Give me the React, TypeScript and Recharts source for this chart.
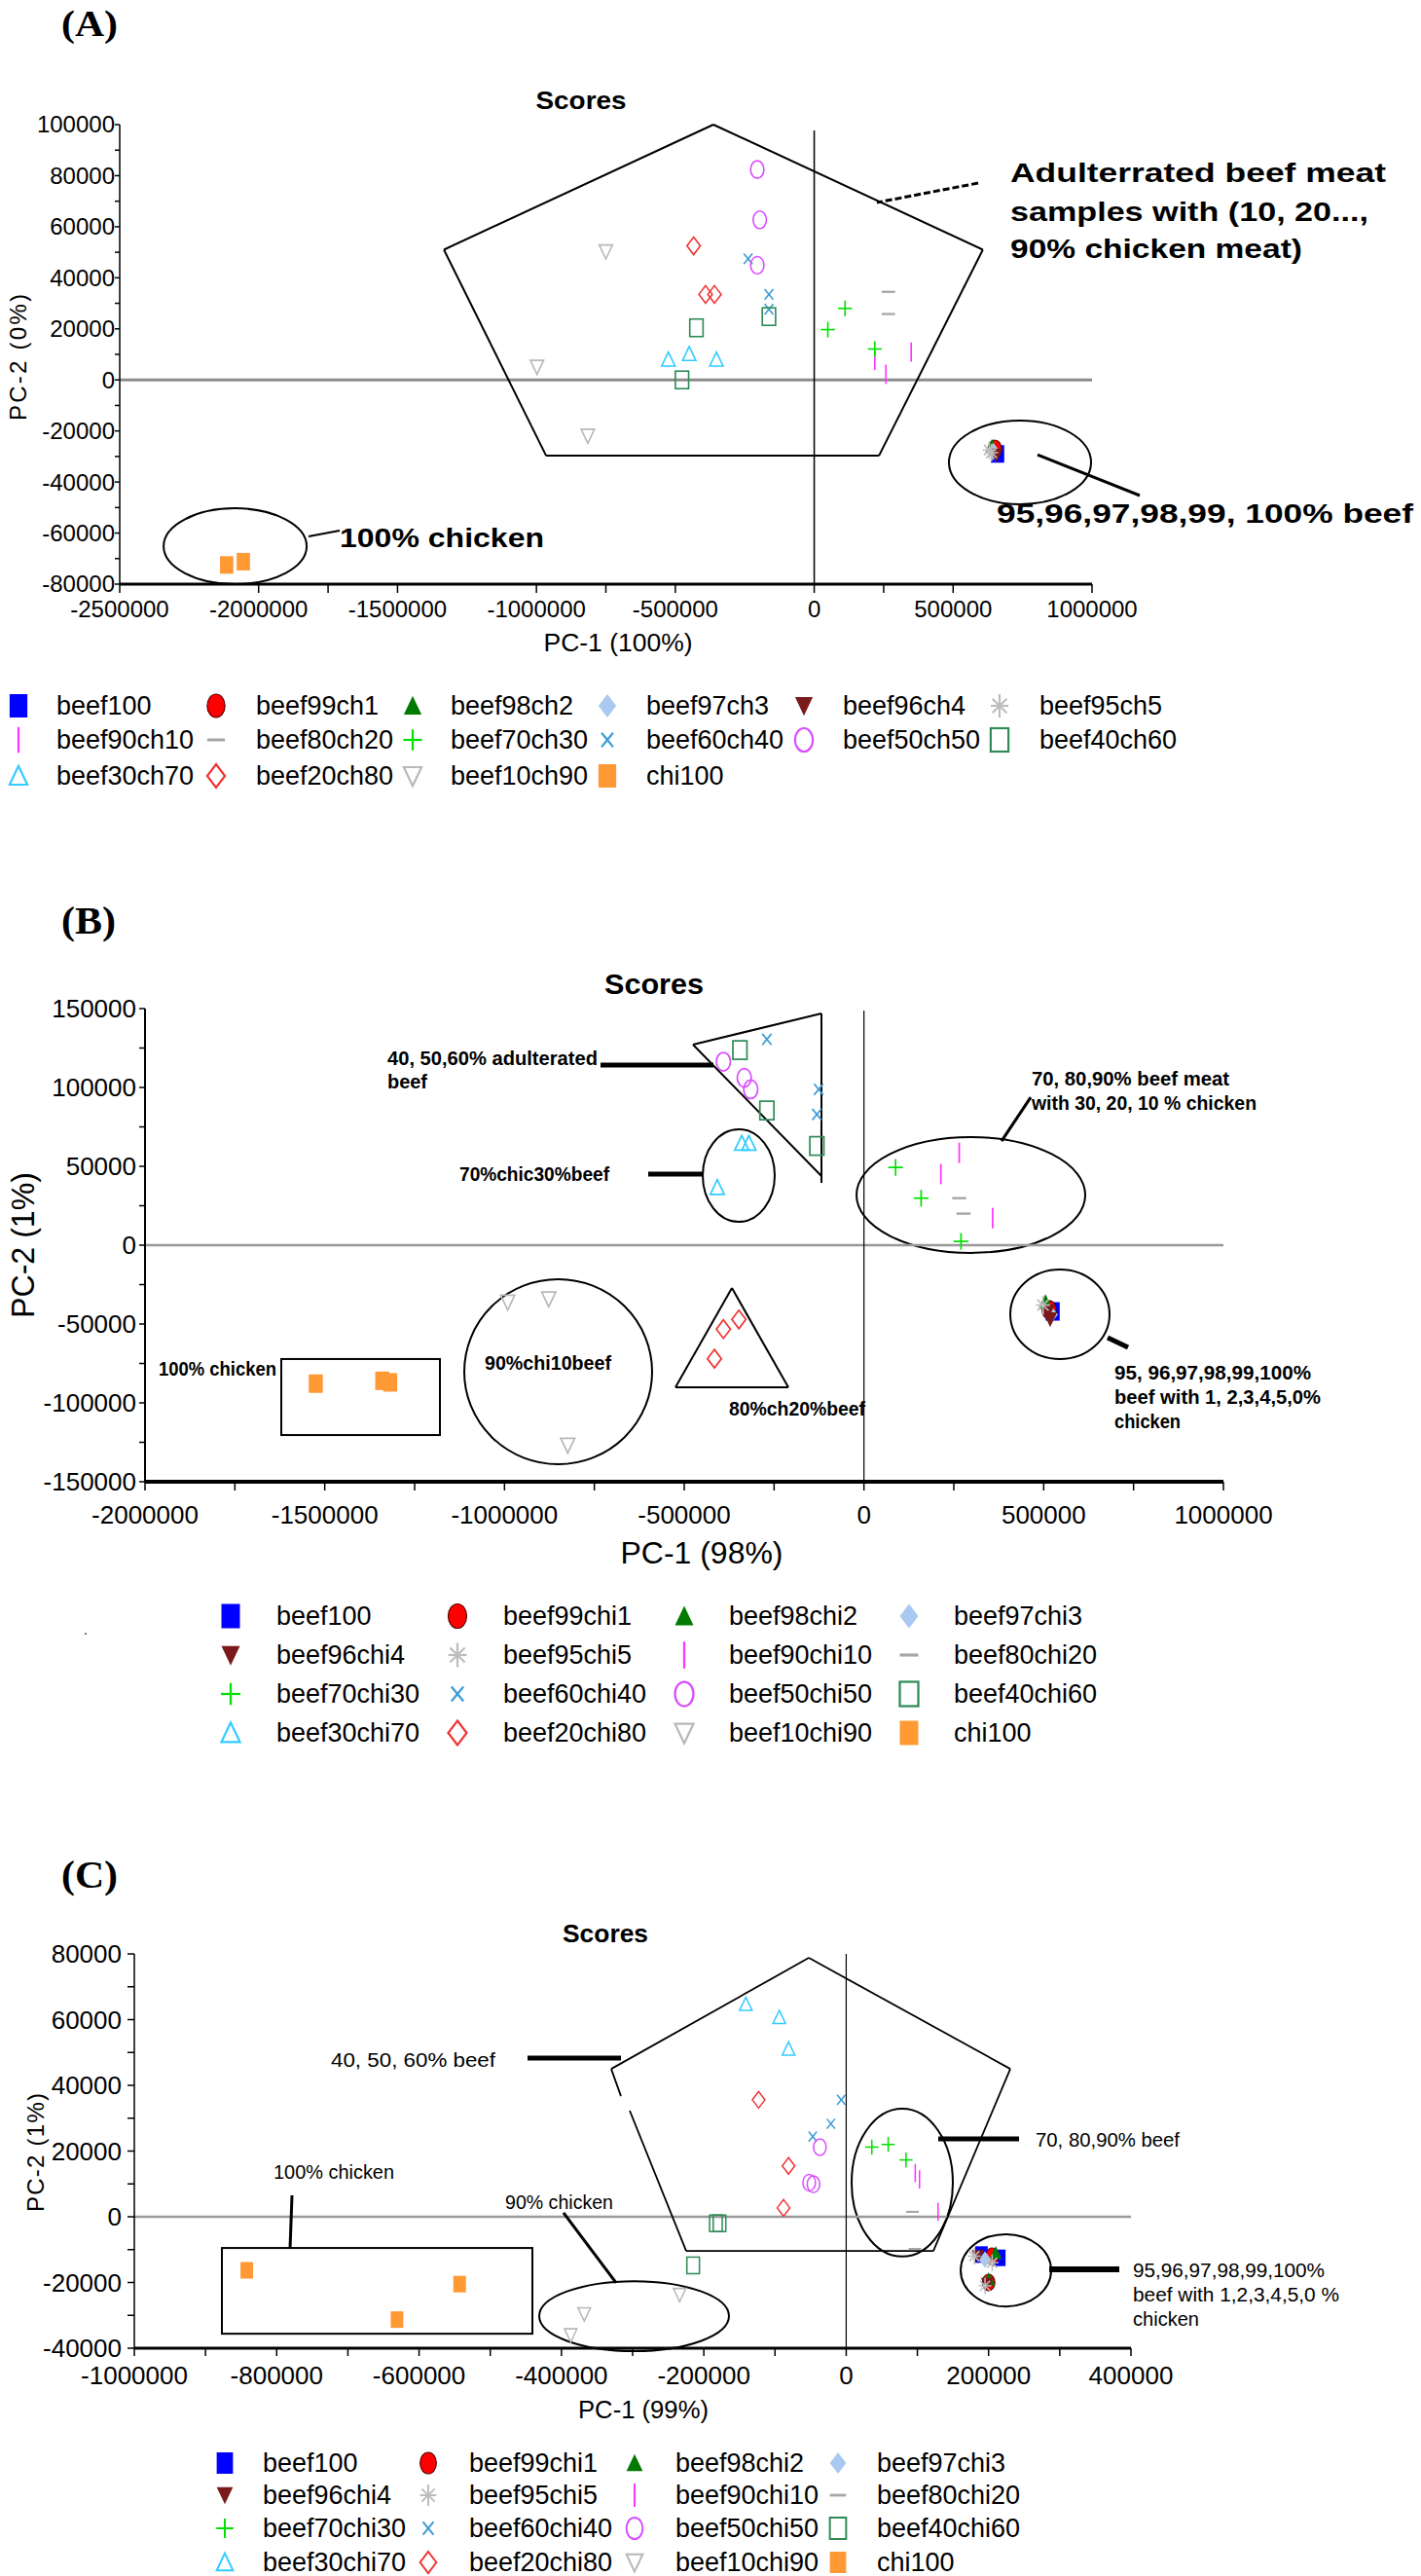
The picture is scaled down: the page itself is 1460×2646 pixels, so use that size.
import React from 'react';
import { ScatterChart, Scatter, XAxis, YAxis, ReferenceLine, ReferenceArea } from 'recharts';

type Pt = [number, number];
type Box = [number, number, number, number]; // x1, x2, y1, y2
type Seg = [number, number, number, number, number]; // x1, y1, x2, y2, width

const FONT = '"Liberation Sans", Arial, Helvetica, sans-serif';
const SERIF = '"Liberation Serif", "Times New Roman", serif';

// series, in legend order
const SERIES_KEYS = ['beef100', 'beef99', 'beef98', 'beef97', 'beef96', 'beef95', 'beef90', 'beef80',
  'beef70', 'beef60', 'beef50', 'beef40', 'beef30', 'beef20', 'beef10', 'chi100'];
const LEGEND_A = ['beef100', 'beef99ch1', 'beef98ch2', 'beef97ch3', 'beef96ch4', 'beef95ch5', 'beef90ch10', 'beef80ch20',
  'beef70ch30', 'beef60ch40', 'beef50ch50', 'beef40ch60', 'beef30ch70', 'beef20ch80', 'beef10ch90', 'chi100'];
const LEGEND_BC = ['beef100', 'beef99chi1', 'beef98chi2', 'beef97chi3', 'beef96chi4', 'beef95chi5', 'beef90chi10', 'beef80chi20',
  'beef70chi30', 'beef60chi40', 'beef50chi50', 'beef40chi60', 'beef30chi70', 'beef20chi80', 'beef10chi90', 'chi100'];
const MARKERS = ['square', 'circle', 'triangle', 'diamond', 'triangleDown', 'star', 'vbar', 'hdash',
  'plus', 'cross', 'circleOpen', 'squareOpen', 'triangleOpen', 'diamondOpen', 'triangleDownOpen', 'square'];
const COLORS = ['#0000ff', '#ff0000', '#007a00', '#a9c9f0', '#7b1a1a', '#bdbdbd', '#ff33ff', '#a6a6a6',
  '#00e000', '#3d9bd6', '#d94dff', '#2e8b57', '#33ccff', '#ee3535', '#b8b8b8', '#ff9933'];

// ---- panel A scores (PC-1 100%, PC-2 0%)
const A_POINTS: Record<string, Pt[]> = {
  beef100: [[660000, -29000]],
  beef99: [[650000, -27000]],
  beef98: [[640000, -26000]],
  beef97: [[645000, -28000]],
  beef96: [[655000, -29500]],
  beef95: [[630000, -27500], [638000, -28500]],
  beef90: [[218000, 7700], [349000, 10900], [258000, 2200]],
  beef80: [[267000, 34500], [267000, 25800]],
  beef70: [[111000, 28000], [49000, 19700], [218000, 12100]],
  beef60: [[-238000, 47400], [-163000, 33500], [-163000, 27700]],
  beef50: [[-205000, 82400], [-196000, 62700], [-205000, 44900]],
  beef40: [[-424000, 20400], [-163000, 24800], [-476000, 0]],
  beef30: [[-525000, 8000], [-450000, 10200], [-352000, 8000]],
  beef20: [[-434000, 52500], [-391000, 33500], [-359000, 33500]],
  beef10: [[-750000, 50300], [-998000, 5100], [-815000, -21900]],
  chi100: [[-2115000, -72500], [-2055000, -71200]],
};

// ---- panel B scores (PC-1 98%, PC-2 1%)
const B_POINTS: Record<string, Pt[]> = {
  beef100: [[525000, -42000]],
  beef99: [[515000, -41000]],
  beef98: [[505000, -36000]],
  beef97: [[520000, -44000]],
  beef96: [[512000, -42000], [518000, -47000]],
  beef95: [[498000, -38000]],
  beef90: [[265000, 58500], [214000, 45100], [358000, 17100]],
  beef80: [[265000, 29800], [277000, 20000]],
  beef70: [[88000, 49300], [159000, 29800], [270000, 2400]],
  beef60: [[-270000, 130500], [-126000, 98800], [-131000, 82900]],
  beef50: [[-391000, 116300], [-333000, 106100], [-315000, 98800]],
  beef40: [[-345000, 123700], [-270000, 85400], [-131000, 62900]],
  beef30: [[-340000, 64600], [-320000, 64600], [-408000, 36600]],
  beef20: [[-391000, -53200], [-348000, -47100], [-416000, -72000]],
  beef10: [[-991000, -36100], [-877000, -34100], [-824000, -126800]],
  chi100: [[-1525000, -87800], [-1340000, -86000], [-1318000, -87000]],
};

// ---- panel C scores (PC-1 99%, PC-2 1%)
const C_POINTS: Record<string, Pt[]> = {
  beef100: [[215000, -12500], [190000, -11500]],
  beef99: [[205000, -12000], [200000, -20000]],
  beef98: [[210000, -11000], [200000, -19000]],
  beef97: [[195000, -13000]],
  beef96: [[185000, -12000], [198000, -20500]],
  beef95: [[205000, -14000], [195000, -21000], [180000, -12000]],
  beef90: [[97000, 13300], [103000, 11400], [129000, 1500]],
  beef80: [[93000, 1500], [96500, -9800]],
  beef70: [[36000, 21200], [59000, 22000], [84000, 17300]],
  beef60: [[-7000, 35600], [-21500, 28300], [-47000, 24400]],
  beef50: [[-37000, 21200], [-52000, 10400], [-46000, 9900]],
  beef40: [[-183000, -2000], [-178000, -2000], [-215000, -14800]],
  beef30: [[-141000, 64700], [-94000, 60700], [-81000, 51100]],
  beef20: [[-123000, 35600], [-81000, 15500], [-88000, 2700]],
  beef10: [[-234000, -23700], [-368000, -29600], [-387000, -36000]],
  chi100: [[-842000, -16300], [-543000, -20500], [-631000, -31300]],
};

// ---- ticks
const A_X_TICKS = [-2500000, -2000000, -1750000, -1500000, -1000000, -750000, -500000, 0, 250000, 500000, 1000000];
const A_X_LABELS = [-2500000, -2000000, -1500000, -1000000, -500000, 0, 500000, 1000000];
const A_Y_TICKS = [-80000, -70000, -60000, -50000, -40000, -30000, -20000, -10000, 0, 10000, 20000, 30000,
  40000, 50000, 60000, 70000, 80000, 90000, 100000];
const A_Y_LABELS = [-80000, -60000, -40000, -20000, 0, 20000, 40000, 60000, 80000, 100000];

const B_X_TICKS = [-2000000, -1750000, -1500000, -1250000, -1000000, -750000, -500000, -250000, 0, 250000, 500000, 750000, 1000000];
const B_X_LABELS = [-2000000, -1500000, -1000000, -500000, 0, 500000, 1000000];
const B_Y_TICKS = [-150000, -125000, -100000, -75000, -50000, -25000, 0, 25000, 50000, 75000, 100000, 125000, 150000];
const B_Y_LABELS = [-150000, -100000, -50000, 0, 50000, 100000, 150000];

const C_X_TICKS = [-1000000, -900000, -800000, -700000, -600000, -500000, -400000, -300000, -200000, -100000,
  0, 100000, 200000, 300000, 400000];
const C_X_LABELS = [-1000000, -800000, -600000, -400000, -200000, 0, 200000, 400000];
const C_Y_TICKS = [-40000, -30000, -20000, -10000, 0, 10000, 20000, 30000, 40000, 50000, 60000, 70000, 80000];
const C_Y_LABELS = [-40000, -20000, 0, 20000, 40000, 60000, 80000];

// ---- annotation shapes (data units)
const A_PENTAGON: Pt[] = [[-363000, 100000], [607000, 51000], [233000, -29700], [-965000, -29700], [-1333000, 51000]];
const A_ELLIPSES: Box[] = [[485000, 996500, -15900, -48700], [-2342000, -1827000, -50300, -80000]];
const A_LEADERS: Seg[] = [[803800, -29300, 1171700, -45300, 3], [-1820300, -61300, -1708200, -59000, 2]];
const A_DASHED_LEADER: Seg = [590000, 77100, 225700, 69500, 3];

const B_TRIANGLE: Pt[] = [[-118200, 39500], [-118200, 146900], [-475600, 127200], [-118200, 43800]];
const B_TRIANGLE2: Pt[] = [[-367300, -27200], [-210300, -90100], [-524400, -90100]];
const B_ELLIPSES: Box[] = [[-448500, -248200, 73500, 14800], [-20700, 615600, 68500, -4900],
  [407100, 683200, -15400, -72200], [-1111900, -589300, -21600, -138900]];
const B_RECT: Box = [-1620900, -1179600, -72200, -120400];
const B_LEADERS: Seg[] = [[-732800, 114200, -418800, 114200, 5], [-600200, 45100, -448500, 45100, 5],
  [463900, 93800, 382700, 66000, 3], [677800, -58600, 734700, -64800, 5]];

const C_PENTAGON: Pt[] = [[-304100, 32300], [-224800, -10400], [122500, -10400], [230500, 45000],
  [-52500, 78800], [-330100, 45000], [-316400, 36700]];
const C_ELLIPSES: Box[] = [[7600, 149800, 32900, -12100], [160800, 287900, -5300, -27300], [-431250, -164650, -19600, -40900]];
const C_RECT: Box = [-876950, -440800, -9500, -35600];
const C_LEADERS: Seg[] = [[-447650, 48300, -316400, 48300, 5], [129300, 23700, 242800, 23700, 5],
  [285200, -16000, 383600, -16000, 6], [-778500, 6500, -781200, -9500, 3], [-397050, 1200, -323200, -20100, 3]];

function Marker({ kind, cx, cy, s, color }: { kind: string; cx: number; cy: number; s: number; color: string }) {
  if (cx == null || cy == null) return null;
  const hw = s * 0.38;
  const hh = s * 0.5;
  const sw = Math.max(1.4, s * 0.09);
  const st = { stroke: color, strokeWidth: sw, fill: 'none' };
  switch (kind) {
    case 'square':
      return <rect x={cx - hw} y={cy - hh} width={2 * hw} height={2 * hh} fill={color} />;
    case 'circle':
      return <ellipse cx={cx} cy={cy} rx={hw} ry={hh} fill={color} stroke="#5c0000" strokeWidth={1.2} />;
    case 'triangle':
      return <polygon points={`${cx},${cy - hh * 0.85} ${cx + hw},${cy + hh * 0.75} ${cx - hw},${cy + hh * 0.75}`} fill={color} />;
    case 'diamond':
      return <polygon points={`${cx},${cy - hh} ${cx + hw},${cy} ${cx},${cy + hh} ${cx - hw},${cy}`} fill={color} />;
    case 'triangleDown':
      return <polygon points={`${cx - hw},${cy - hh * 0.75} ${cx + hw},${cy - hh * 0.75} ${cx},${cy + hh * 0.85}`} fill={color} />;
    case 'star':
      return (
        <g {...st}>
          <line x1={cx} y1={cy - hh} x2={cx} y2={cy + hh} />
          <line x1={cx - hw} y1={cy} x2={cx + hw} y2={cy} />
          <line x1={cx - hw * 0.8} y1={cy - hh * 0.6} x2={cx + hw * 0.8} y2={cy + hh * 0.6} />
          <line x1={cx - hw * 0.8} y1={cy + hh * 0.6} x2={cx + hw * 0.8} y2={cy - hh * 0.6} />
        </g>
      );
    case 'vbar':
      return <line x1={cx} y1={cy - hh * 1.1} x2={cx} y2={cy + hh * 1.1} {...st} />;
    case 'hdash':
      return <line x1={cx - hw} y1={cy} x2={cx + hw} y2={cy} stroke={color} strokeWidth={sw * 1.4} />;
    case 'plus':
      return (
        <g {...st}>
          <line x1={cx} y1={cy - hh * 0.9} x2={cx} y2={cy + hh * 0.9} />
          <line x1={cx - hw * 1.05} y1={cy} x2={cx + hw * 1.05} y2={cy} />
        </g>
      );
    case 'cross':
      return (
        <g {...st}>
          <line x1={cx - hw * 0.65} y1={cy - hh * 0.6} x2={cx + hw * 0.65} y2={cy + hh * 0.6} />
          <line x1={cx - hw * 0.65} y1={cy + hh * 0.6} x2={cx + hw * 0.65} y2={cy - hh * 0.6} />
        </g>
      );
    case 'circleOpen':
      return <ellipse cx={cx} cy={cy} rx={hw} ry={hh} {...st} />;
    case 'squareOpen':
      return <rect x={cx - hw} y={cy - hh} width={2 * hw} height={2 * hh} {...st} />;
    case 'triangleOpen':
      return <polygon points={`${cx},${cy - hh * 0.85} ${cx + hw},${cy + hh * 0.75} ${cx - hw},${cy + hh * 0.75}`} {...st} />;
    case 'diamondOpen':
      return <polygon points={`${cx},${cy - hh} ${cx + hw},${cy} ${cx},${cy + hh} ${cx - hw},${cy}`} {...st} />;
    case 'triangleDownOpen':
      return <polygon points={`${cx - hw},${cy - hh * 0.75} ${cx + hw},${cy - hh * 0.75} ${cx},${cy + hh * 0.85}`} {...st} />;
    default:
      return null;
  }
}

const toData = (pts: Pt[]) => pts.map(([x, y]) => ({ x, y }));

function xTick(labels: number[], size: number) {
  return (props: any) => {
    const { x, y, payload } = props;
    if (!labels.includes(payload.value)) return <g />;
    return (
      <text x={x} y={y} dy={size * 0.78} textAnchor="middle" fontSize={size} fontFamily={FONT} fill="#000">
        {String(payload.value)}
      </text>
    );
  };
}

function yTick(labels: number[], size: number) {
  return (props: any) => {
    const { x, y, payload } = props;
    if (!labels.includes(payload.value)) return <g />;
    return (
      <text x={x} y={y} dy={size * 0.35} textAnchor="end" fontSize={size} fontFamily={FONT} fill="#000">
        {String(payload.value)}
      </text>
    );
  };
}

const seg = (key: string, a: Pt, b: Pt, w = 2, dash?: string) => (
  <ReferenceLine key={key} segment={[{ x: a[0], y: a[1] }, { x: b[0], y: b[1] }]}
    stroke="#000" strokeWidth={w} strokeDasharray={dash} ifOverflow="visible" />
);

const polyline = (key: string, pts: Pt[], closed: boolean, w = 2) => {
  const out: React.ReactNode[] = [];
  const list = closed ? [...pts, pts[0]] : pts;
  for (let i = 0; i < list.length - 1; i++) out.push(seg(`${key}${i}`, list[i], list[i + 1], w));
  return out;
};

const ellipse = (key: string, b: Box, w = 2) => (
  <ReferenceArea key={key} x1={b[0]} x2={b[1]} y1={b[2]} y2={b[3]} ifOverflow="visible"
    shape={(p: any) => (
      <ellipse cx={p.x + p.width / 2} cy={p.y + p.height / 2} rx={Math.abs(p.width) / 2} ry={Math.abs(p.height) / 2}
        fill="none" stroke="#000" strokeWidth={w} />
    )} />
);

const box = (key: string, b: Box, w = 2) => (
  <ReferenceArea key={key} x1={b[0]} x2={b[1]} y1={b[2]} y2={b[3]} ifOverflow="visible"
    shape={(p: any) => <rect x={p.x} y={p.y} width={p.width} height={p.height} fill="none" stroke="#000" strokeWidth={w} />} />
);

const leaders = (key: string, list: Seg[]) =>
  list.map((l, i) => seg(`${key}${i}`, [l[0], l[1]], [l[2], l[3]], l[4]));

type PanelProps = {
  top: number;
  height: number;
  margin: { top: number; right: number; bottom: number; left: number };
  yWidth: number;
  xDomain: [number, number];
  yDomain: [number, number];
  xTicks: number[];
  xLabels: number[];
  yTicks: number[];
  yLabels: number[];
  xFont: number;
  yFont: number;
  xTickSize: number;
  xTickMargin: number;
  yTickSize: number;
  yTickMargin: number;
  xAxisW: number;
  yAxisW: number;
  points: Record<string, Pt[]>;
  ms: number;
  extras: React.ReactNode[];
};

function Panel(p: PanelProps) {
  return (
    <div style={{ position: 'absolute', left: 0, top: p.top }}>
      <ScatterChart width={1460} height={p.height} margin={p.margin}>
        <XAxis type="number" dataKey="x" domain={p.xDomain} allowDataOverflow ticks={p.xTicks} interval={0} height={60}
          tick={xTick(p.xLabels, p.xFont)} tickSize={p.xTickSize} tickMargin={p.xTickMargin}
          axisLine={{ stroke: '#000', strokeWidth: p.xAxisW }} tickLine={{ stroke: '#000', strokeWidth: 1.5 }} />
        <YAxis type="number" dataKey="y" domain={p.yDomain} allowDataOverflow ticks={p.yTicks} interval={0} width={p.yWidth}
          tick={yTick(p.yLabels, p.yFont)} tickSize={p.yTickSize} tickMargin={p.yTickMargin}
          axisLine={{ stroke: '#000', strokeWidth: p.yAxisW }} tickLine={{ stroke: '#000', strokeWidth: 1.5 }} />
        {p.extras}
        {SERIES_KEYS.map((k, i) => (
          <Scatter key={k} name={k} data={toData(p.points[k])} isAnimationActive={false}
            shape={(s: any) => <Marker kind={MARKERS[i]} cx={s.cx} cy={s.cy} s={p.ms} color={COLORS[i]} />} />
        ))}
      </ScatterChart>
    </div>
  );
}

function Txt({ x, y, size, text, len, bold, anchor = 'start', family = FONT, rotate, adjust = 'spacingAndGlyphs' }: {
  x: number; y: number; size: number; text: string; len?: number; bold?: boolean; anchor?: string;
  family?: string; rotate?: boolean; adjust?: string;
}) {
  return (
    <text x={x} y={y} dy={size * 0.35} fontSize={size} fontFamily={family} fontWeight={bold ? 'bold' : 'normal'}
      textAnchor={anchor as any} fill="#000" textLength={len} lengthAdjust={len ? (adjust as any) : undefined}
      transform={rotate ? `rotate(-90 ${x} ${y})` : undefined}>
      {text}
    </text>
  );
}

function Legend({ names, cols, symX, textX, rows, ms, font }: {
  names: string[]; cols: number; symX: number[]; textX: number[]; rows: number[]; ms: number; font: number;
}) {
  return (
    <g>
      {names.map((n, i) => {
        const r = Math.floor(i / cols);
        const c = i % cols;
        return (
          <g key={n}>
            <Marker kind={MARKERS[i]} cx={symX[c]} cy={rows[r]} s={ms} color={COLORS[i]} />
            <text x={textX[c]} y={rows[r]} dy={font * 0.35} fontSize={font} fontFamily={FONT} fill="#000">{n}</text>
          </g>
        );
      })}
    </g>
  );
}

export default function App() {
  const aExtras = [
    <ReferenceLine key="ay0" y={0} stroke="#8c8c8c" strokeWidth={3} />,
    seg('ax0', [0, -80000], [0, 97700], 1.5),
    ...polyline('apent', A_PENTAGON, true, 2),
    ...A_ELLIPSES.map((b, i) => ellipse(`ael${i}`, b, 2)),
    ...leaders('ald', A_LEADERS),
    seg('adash', [A_DASHED_LEADER[0], A_DASHED_LEADER[1]], [A_DASHED_LEADER[2], A_DASHED_LEADER[3]], A_DASHED_LEADER[4], '7 3'),
  ];
  const bExtras = [
    <ReferenceLine key="by0" y={0} stroke="#999" strokeWidth={2.5} />,
    seg('bx0', [0, -150000], [0, 148800], 1.2),
    ...polyline('btri', B_TRIANGLE, false, 2),
    ...polyline('btri2', B_TRIANGLE2, true, 2),
    ...B_ELLIPSES.map((b, i) => ellipse(`bel${i}`, b, 2)),
    box('brect', B_RECT, 2),
    ...leaders('bld', B_LEADERS),
  ];
  const cExtras = [
    <ReferenceLine key="cy0" y={0} stroke="#999" strokeWidth={2.5} />,
    seg('cx0', [0, -40000], [0, 80000], 1.2),
    ...polyline('cpent', C_PENTAGON, false, 1.8),
    ...C_ELLIPSES.map((b, i) => ellipse(`cel${i}`, b, 2)),
    box('crect', C_RECT, 2),
    ...leaders('cld', C_LEADERS),
  ];

  return (
    <div style={{ position: 'absolute', left: 0, top: 0, width: 1460, height: 2646, background: '#fff', fontFamily: FONT }}>
      <Panel top={0} height={700} margin={{ top: 128, right: 338, bottom: 40, left: 13 }} yWidth={110}
        xDomain={[-2500000, 1000000]} yDomain={[-80000, 100000]}
        xTicks={A_X_TICKS} xLabels={A_X_LABELS} yTicks={A_Y_TICKS} yLabels={A_Y_LABELS}
        xFont={24} yFont={24} xTickSize={9} xTickMargin={6} yTickSize={5} yTickMargin={0}
        xAxisW={3} yAxisW={1.5} points={A_POINTS} ms={18} extras={aExtras} />
      <Panel top={880} height={740} margin={{ top: 156, right: 203, bottom: 38, left: 29 }} yWidth={120}
        xDomain={[-2000000, 1000000]} yDomain={[-150000, 150000]}
        xTicks={B_X_TICKS} xLabels={B_X_LABELS} yTicks={B_Y_TICKS} yLabels={B_Y_LABELS}
        xFont={26} yFont={26} xTickSize={9} xTickMargin={14} yTickSize={6} yTickMargin={3}
        xAxisW={4} yAxisW={2} points={B_POINTS} ms={19} extras={bExtras} />
      <Panel top={1840} height={680} margin={{ top: 167, right: 298, bottom: 48, left: 18 }} yWidth={120}
        xDomain={[-1000000, 400000]} yDomain={[-40000, 80000]}
        xTicks={C_X_TICKS} xLabels={C_X_LABELS} yTicks={C_Y_TICKS} yLabels={C_Y_LABELS}
        xFont={26} yFont={26} xTickSize={8} xTickMargin={9} yTickSize={7} yTickMargin={6}
        xAxisW={3} yAxisW={1.5} points={C_POINTS} ms={17} extras={cExtras} />

      <svg style={{ position: 'absolute', left: 0, top: 0, pointerEvents: 'none' }} width={1460} height={2646}>
        {/* panel A */}
        <Txt x={92} y={24} size={38} text="(A)" bold family={SERIF} anchor="middle" len={58} />
        <Txt x={597} y={103} size={26} text="Scores" bold anchor="middle" len={93} />
        <Txt x={635} y={660} size={26} text="PC-1 (100%)" anchor="middle" len={153} />
        <Txt x={19} y={367} size={24} text="PC-2 (0%)" anchor="middle" rotate len={130} adjust="spacing" />
        <Txt x={1038} y={178} size={27} text="Adulterrated beef meat" bold len={386} />
        <Txt x={1038} y={218} size={27} text="samples with (10, 20...," bold len={368} />
        <Txt x={1038} y={256} size={27} text="90% chicken meat)" bold len={300} />
        <Txt x={1024} y={528} size={27} text="95,96,97,98,99, 100% beef" bold len={428} />
        <Txt x={349} y={553} size={27} text="100% chicken" bold len={210} />
        <Legend names={LEGEND_A} cols={6} symX={[19, 222, 424, 624, 826, 1027]} textX={[58, 263, 463, 664, 866, 1068]}
          rows={[725, 760, 797]} ms={24} font={27} />

        {/* panel B */}
        <Txt x={91} y={945} size={40} text="(B)" bold family={SERIF} anchor="middle" len={56} />
        <Txt x={672} y={1010} size={30} text="Scores" bold anchor="middle" len={102} />
        <Txt x={721} y={1595} size={32} text="PC-1 (98%)" anchor="middle" len={167} />
        <Txt x={23} y={1279} size={34} text="PC-2 (1%)" anchor="middle" rotate len={150} />
        <Txt x={398} y={1087} size={20} text="40, 50,60% adulterated" bold len={216} />
        <Txt x={398} y={1111} size={20} text="beef" bold len={41} />
        <Txt x={472} y={1206} size={20} text="70%chic30%beef" bold len={154} />
        <Txt x={1060} y={1108} size={20} text="70, 80,90% beef meat" bold len={203} />
        <Txt x={1060} y={1133} size={20} text="with 30, 20, 10 % chicken" bold len={231} />
        <Txt x={1145} y={1410} size={20} text="95, 96,97,98,99,100%" bold len={202} />
        <Txt x={1145} y={1435} size={20} text="beef with 1, 2,3,4,5,0%" bold len={212} />
        <Txt x={1145} y={1460} size={20} text="chicken" bold len={68} />
        <Txt x={163} y={1406} size={20} text="100% chicken" bold len={121} />
        <Txt x={498} y={1400} size={20} text="90%chi10beef" bold len={130} />
        <Txt x={749} y={1447} size={20} text="80%ch20%beef" bold len={140} />
        <Txt x={86} y={1674} size={14} text="." />
        <Legend names={LEGEND_BC} cols={4} symX={[237, 470, 703, 934]} textX={[284, 517, 749, 980]}
          rows={[1660, 1700, 1740, 1780]} ms={25} font={27} />

        {/* panel C */}
        <Txt x={92} y={1925} size={40} text="(C)" bold family={SERIF} anchor="middle" len={58} />
        <Txt x={622} y={1986} size={26} text="Scores" bold anchor="middle" len={88} />
        <Txt x={661} y={2475} size={26} text="PC-1 (99%)" anchor="middle" len={134} />
        <Txt x={37} y={2211} size={24} text="PC-2 (1%)" anchor="middle" rotate len={122} adjust="spacing" />
        <Txt x={340} y={2116} size={20} text="40, 50, 60% beef" len={169} />
        <Txt x={1064} y={2198} size={20} text="70, 80,90% beef" len={148} />
        <Txt x={1164} y={2332} size={20} text="95,96,97,98,99,100%" len={197} />
        <Txt x={1164} y={2357} size={20} text="beef with 1,2,3,4,5,0 %" len={212} />
        <Txt x={1164} y={2382} size={20} text="chicken" len={68} />
        <Txt x={281} y={2231} size={20} text="100% chicken" len={124} />
        <Txt x={519} y={2262} size={20} text="90% chicken" len={111} />
        <Legend names={LEGEND_BC} cols={4} symX={[231, 440, 652, 861]} textX={[270, 482, 694, 901]}
          rows={[2530, 2563, 2597, 2632]} ms={22} font={27} />
      </svg>
    </div>
  );
}
